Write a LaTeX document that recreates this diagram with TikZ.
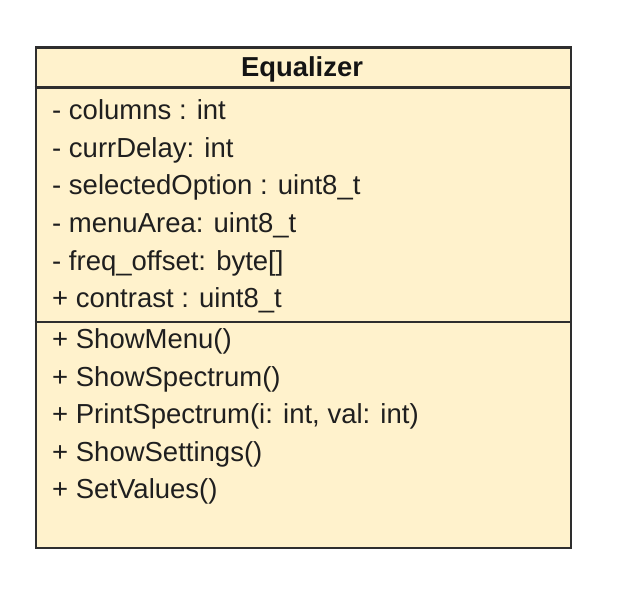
\documentclass[tikz,border=0pt]{standalone}
\usepackage{fontspec}
\setmainfont{Liberation Sans}
\begin{document}
\begin{tikzpicture}[x=1pt,y=-1pt,
  classbox/.style={draw=black!82,fill=classfill,line width=2.2pt,inner sep=0pt},
  member/.style={anchor=base west,inner sep=0pt,font=\fontsize{27.5}{30}\selectfont,text=black!88},
  classname/.style={anchor=base,inner sep=0pt,font=\fontsize{27.4}{30}\selectfont\bfseries,text=black!92},
  divider/.style={draw=black!82,line width=2.2pt}]
\definecolor{classfill}{HTML}{FFF2CC}
\useasboundingbox (0,0) rectangle (625,602);
% class box
\coordinate (nw) at (34.5,46.5);
\node[classbox,minimum width=535pt,minimum height=500.5pt,anchor=north west] (cls) at (nw) {};
% compartment dividers
\coordinate (d1w) at (34.5,87.5);  \coordinate (d1e) at (569.5,87.5);
\coordinate (d2w) at (34.5,322);   \coordinate (d2e) at (569.5,322);
\draw[divider] (d1w) -- (d1e);
\draw[divider] (d2w) -- (d2e);
% name
\node[classname] (name) at (302,76.5) {Equalizer};
% attributes
\node[member] (a1) at (52,120)   {- columns : int};
\node[member] (a2) at (52,157.5) {- currDelay: int};
\node[member] (a3) at (52,195)   {- selectedOption : uint8\_t};
\node[member] (a4) at (52,232.5) {- menuArea: uint8\_t};
\node[member] (a5) at (52,270)   {- freq\_offset: byte[]};
\node[member] (a6) at (52,307.5) {+ contrast : uint8\_t};
% operations
\node[member] (m1) at (52,348.5) {+ ShowMenu()};
\node[member] (m2) at (52,386)   {+ ShowSpectrum()};
\node[member] (m3) at (52,423.5) {+ PrintSpectrum(i: int, val: int)};
\node[member] (m4) at (52,461)   {+ ShowSettings()};
\node[member] (m5) at (52,498.5) {+ SetValues()};
\end{tikzpicture}
\end{document}
